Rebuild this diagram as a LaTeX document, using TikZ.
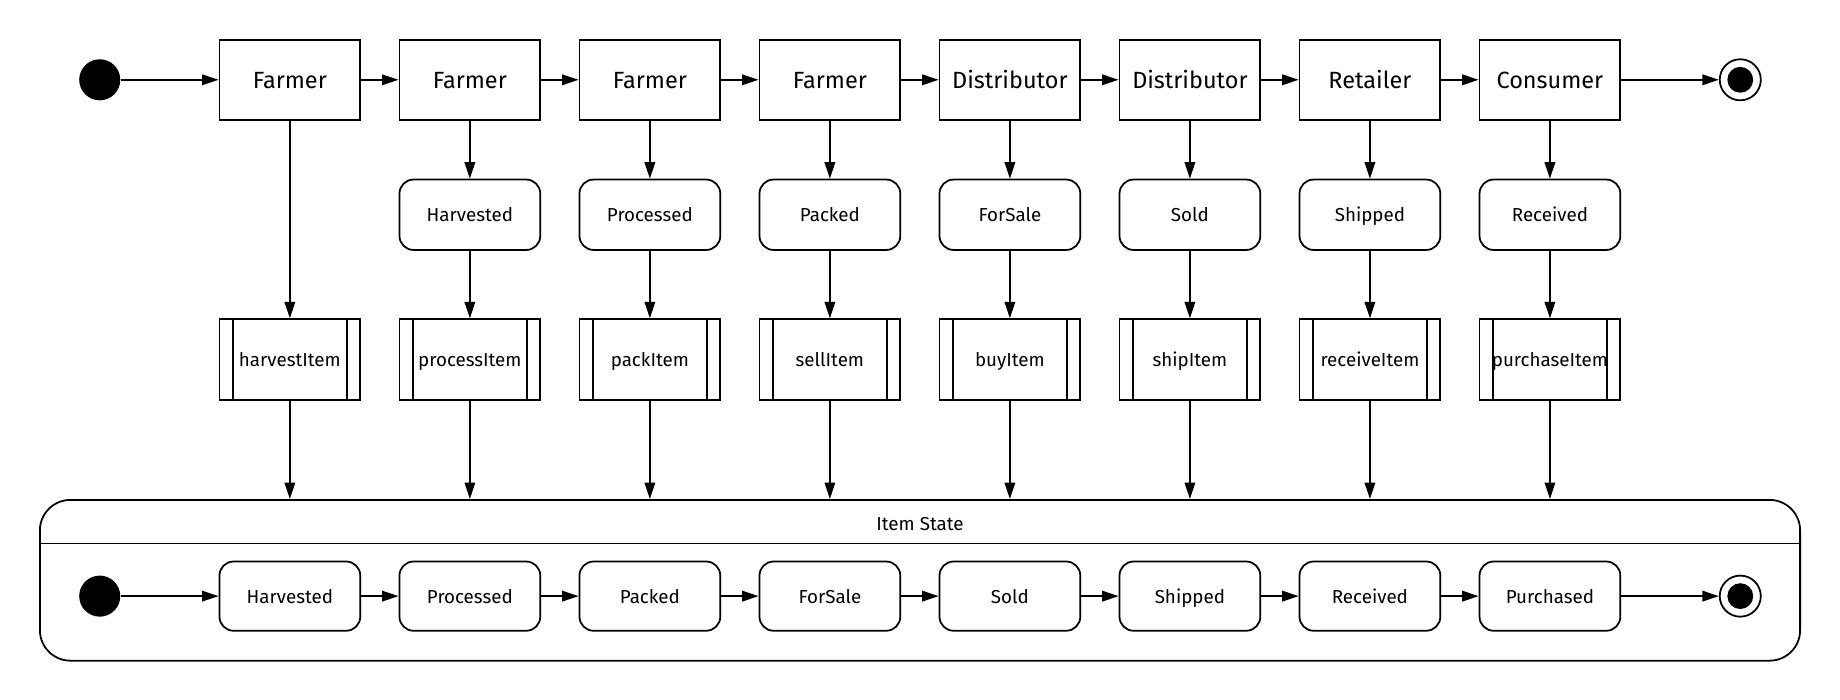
\documentclass[tikz,border=0pt]{standalone}
\usepackage{fontspec}
\setmainfont{Fira Sans}
\usetikzlibrary{arrows.meta}
\begin{document}
\begin{tikzpicture}[x=1pt,y=-1pt,
  box/.style={draw, line width=1.5pt, minimum width=120pt, minimum height=68pt, inner sep=0pt, text height=16pt, text depth=2pt, font=\fontsize{20}{24}\selectfont},
  st/.style={draw, line width=1.5pt, rounded corners=12pt, minimum width=120pt, minimum height=60pt, inner sep=0pt, text height=13.5pt, text depth=1.5pt, font=\fontsize{16}{19}\selectfont},
  fn/.style={draw, line width=1.5pt, minimum width=120pt, minimum height=69pt, inner sep=0pt, text height=13.5pt, text depth=1.5pt, font=\fontsize{16}{19}\selectfont},
  initial/.style={circle, fill=black, minimum size=35pt, inner sep=0pt},
  final/.style={circle, draw, line width=1.5pt, minimum size=35pt, inner sep=0pt},
  arr/.style={line width=1.3pt, -{Triangle[length=14pt,width=9pt]}},
  container/.style={draw, line width=1.5pt, rounded corners=26pt, minimum width=1500pt, minimum height=137pt, inner sep=0pt}
]
\useasboundingbox (0,0) rectangle (1568,596.5);

% top row
\node[initial] (s0) at (85,68) {};
\foreach \i/\t in {1/Farmer,2/Farmer,3/Farmer,4/Farmer,5/Distributor,6/Distributor,7/Retailer,8/Consumer}{
  \node[box] (a\i) at ({247+153.4*(\i-1)},68) {\t};
}
\node[final] (e0) at (1483,68) {};
\fill (e0.center) circle (11pt);

% state row
\foreach \i/\t in {2/Harvested,3/Processed,4/Packed,5/ForSale,6/Sold,7/Shipped,8/Received}{
  \node[st] (m\i) at ({247+153.4*(\i-1)},183) {\t};
}

% function row
\foreach \i/\t in {1/harvestItem,2/processItem,3/packItem,4/sellItem,5/buyItem,6/shipItem,7/receiveItem,8/purchaseItem}{
  \node[fn] (f\i) at ({247+153.4*(\i-1)},306.5) {\t};
  \draw[line width=1.5pt] ([xshift=12pt]f\i.north west) -- ([xshift=12pt]f\i.south west);
  \draw[line width=1.5pt] ([xshift=-12pt]f\i.north east) -- ([xshift=-12pt]f\i.south east);
}

% container
\node[container] (c) at (784,494.5) {};
\coordinate (hl) at ([yshift=-38pt]c.north west);
\coordinate (hr) at ([yshift=-38pt]c.north east);
\draw[line width=1.5pt] (hl) -- (hr);
\node[font=\fontsize{16}{19}\selectfont, text height=13.5pt, text depth=1.5pt, inner sep=0pt] (title) at (784,446) {Item State};

\node[initial] (s1) at (85,508) {};
\foreach \i/\t in {1/Harvested,2/Processed,3/Packed,4/ForSale,5/Sold,6/Shipped,7/Received,8/Purchased}{
  \node[st, minimum height=59pt] (b\i) at ({247+153.4*(\i-1)},508) {\t};
}
\node[final] (e1) at (1483,508) {};
\fill (e1.center) circle (11pt);

% connectors top row
\draw[arr] (s0) -- (a1);
\foreach \i [evaluate=\i as \j using int(\i+1)] in {1,...,7}{
  \draw[arr] (a\i) -- (a\j);
}
\draw[arr] (a8) -- (e0);

% vertical
\draw[arr] (a1) -- (f1);
\foreach \i in {2,...,8}{
  \draw[arr] (a\i) -- (m\i);
  \draw[arr] (m\i) -- (f\i);
}
\foreach \i in {1,...,8}{
  \draw[arr] (f\i) -- (f\i.south |- c.north);
}

% bottom row
\draw[arr] (s1) -- (b1);
\foreach \i [evaluate=\i as \j using int(\i+1)] in {1,...,7}{
  \draw[arr] (b\i) -- (b\j);
}
\draw[arr] (b8) -- (e1);
\end{tikzpicture}
\end{document}
